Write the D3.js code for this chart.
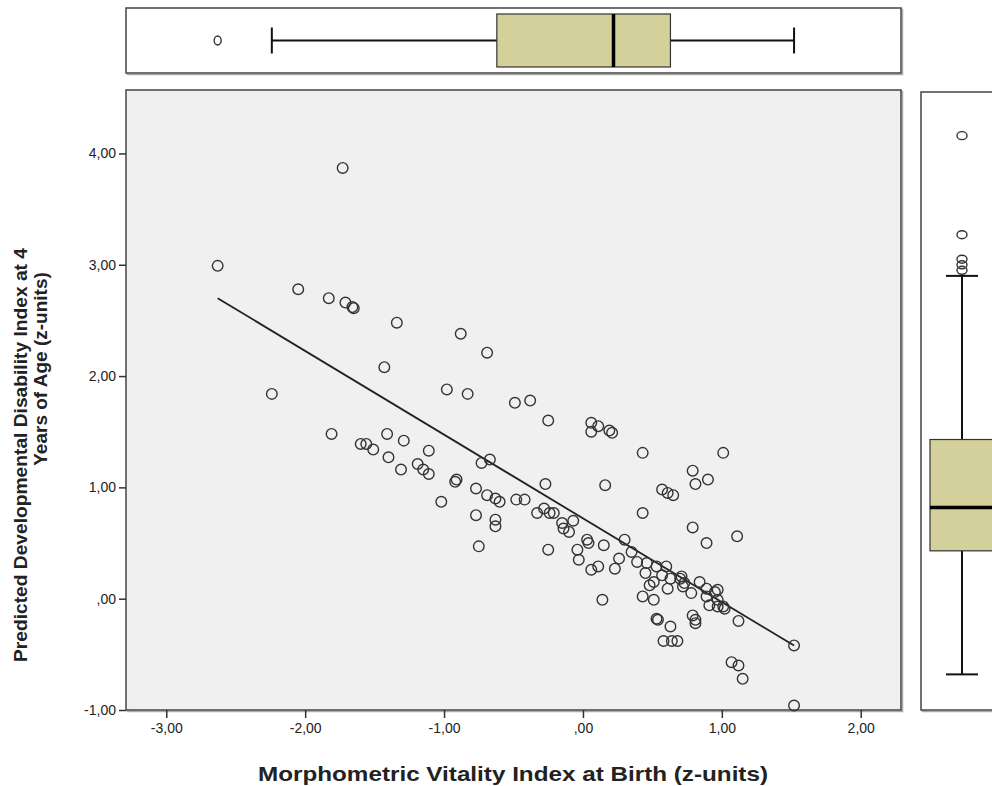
<!DOCTYPE html>
<html>
<head>
<meta charset="utf-8">
<script src="https://cdn.jsdelivr.net/npm/d3@7"></script>
<style>
  body { margin: 0; background: #fff; }
  svg { display: block; font-family: "Liberation Sans", Arial, sans-serif; }
  .tick text { font-size: 14px; fill: #222; }
  .tick line { stroke: #333; stroke-width: 1.5; }
</style>
</head>
<body>
<script>
// scatter values (z-units)
const vitality = [
  -2.63, -1.73, -2.05, -1.83, -1.71, -1.65, -1.66, -1.34, -0.88, -0.69,
  -1.43, -2.24, -0.98, -0.83, -0.49, -0.38, -0.25, 0.06, 0.11, 0.06,
  0.19, 0.21, 0.43, 1.01, 0.79, 0.81, 0.90, -0.27, 0.16, 0.57,
  0.61, 0.65, 0.43, 0.79, 0.89, 1.11, -1.81, -1.60, -1.56, -1.51,
  -1.41, -1.29, -1.40, -1.31, -1.11, -1.19, -1.15, -1.11, -0.92, -0.91,
  -0.73, -0.67, -1.02, -0.77, -0.69, -0.63, -0.60, -0.48, -0.77, -0.63,
  -0.63, -0.75, -0.42, -0.33, -0.28, -0.24, -0.21, -0.15, -0.14, -0.10,
  -0.07, -0.25, -0.04, -0.03, 0.03, 0.04, 0.15, 0.06, 0.11, 0.30,
  0.26, 0.23, 0.35, 0.39, 0.46, 0.53, 0.60, 0.63, 0.57, 0.51,
  0.48, 0.70, 0.61, 0.72, 0.84, 0.78, 0.89, 0.95, 0.43, 0.51,
  0.14, 0.91, 0.97, 0.71, 0.73, 0.97, 1.01, 1.02, 0.89, 0.97,
  0.53, 0.54, 0.63, 0.58, 0.64, 0.68, 0.79, 0.81, 0.81, 1.12,
  1.07, 1.12, 1.15, 1.52, 1.52, 0.45
];
const disability = [
  2.99, 3.87, 2.78, 2.70, 2.66, 2.61, 2.62, 2.48, 2.38, 2.21,
  2.08, 1.84, 1.88, 1.84, 1.76, 1.78, 1.60, 1.58, 1.55, 1.50,
  1.51, 1.49, 1.31, 1.31, 1.15, 1.03, 1.07, 1.03, 1.02, 0.98,
  0.95, 0.93, 0.77, 0.64, 0.50, 0.56, 1.48, 1.39, 1.39, 1.34,
  1.48, 1.42, 1.27, 1.16, 1.33, 1.21, 1.16, 1.12, 1.05, 1.07,
  1.22, 1.25, 0.87, 0.99, 0.93, 0.90, 0.87, 0.89, 0.75, 0.71,
  0.65, 0.47, 0.89, 0.77, 0.81, 0.77, 0.77, 0.68, 0.63, 0.60,
  0.70, 0.44, 0.44, 0.35, 0.53, 0.50, 0.48, 0.26, 0.29, 0.53,
  0.36, 0.27, 0.42, 0.33, 0.32, 0.29, 0.29, 0.18, 0.21, 0.15,
  0.12, 0.18, 0.09, 0.11, 0.15, 0.05, 0.09, 0.06, 0.02, -0.01,
  -0.01, -0.06, 0.08, 0.20, 0.14, -0.07, -0.07, -0.09, 0.02, -0.01,
  -0.18, -0.19, -0.25, -0.38, -0.38, -0.38, -0.15, -0.19, -0.22, -0.20,
  -0.57, -0.60, -0.72, -0.42, -0.96, 0.23
];

// linear fit drawn over the range of x
const fitIntercept = 0.722;
const fitSlope = -0.752;
const fitRange = [-2.63, 1.52];

// box plot summaries: [low whisker, Q1, median, Q3, high whisker]
const xBox = [-2.24, -0.62, 0.22, 0.63, 1.52];
const xOutliers = [-2.63];
const yBox = [-0.68, 0.43, 0.82, 1.43, 2.90];
const yOutliers = [4.16, 3.27, 3.05, 3.00, 2.95];

const xTicks = [-3, -2, -1, 0, 1, 2];
const yTicks = [-1, 0, 1, 2, 3, 4];

const width = 992, height = 786;
const plot = { left: 126, right: 901, top: 90, bottom: 710 };
const topPanel = { top: 8, bottom: 73 };
const sidePanel = { left: 921, right: 1010 };
const boxFill = '#d4d09c';

const svg = d3.select('body')
  .append('svg')
  .attr('width', width)
  .attr('height', height);

const x = d3.scaleLinear()
  .domain([-3.29, 2.29])
  .range([plot.left, plot.right]);

const y = d3.scaleLinear()
  .domain([-1, 4.57])
  .range([plot.bottom, plot.top]);

const locale = d3.formatLocale({ decimal: ',', thousands: '.', grouping: [3], currency: ['', ''], minus: '-' });
const fmt = (d) => locale.format('.2f')(d).replace(/^0,/, ',');

function panel(x0, y0, w, h, fill) {
  svg.append('rect')
    .attr('x', x0 + 1.5).attr('y', y0 + 1.5)
    .attr('width', w).attr('height', h)
    .attr('fill', 'none')
    .attr('stroke', '#aaa')
    .attr('stroke-width', 1.5);
  svg.append('rect')
    .attr('x', x0).attr('y', y0)
    .attr('width', w).attr('height', h)
    .attr('fill', fill)
    .attr('stroke', '#444')
    .attr('stroke-width', 1.5);
}

// main panel
panel(plot.left, plot.top, plot.right - plot.left, plot.bottom - plot.top, '#f0f0f0');

svg.append('g')
  .attr('transform', 'translate(0,' + plot.bottom + ')')
  .call(d3.axisBottom(x).tickValues(xTicks).tickSize(8).tickPadding(5).tickFormat(fmt))
  .call((g) => g.select('.domain').remove());

svg.append('g')
  .attr('transform', 'translate(' + plot.left + ',0)')
  .call(d3.axisLeft(y).tickValues(yTicks).tickSize(7).tickPadding(3).tickFormat(fmt))
  .call((g) => g.select('.domain').remove());

svg.append('line')
  .attr('x1', x(fitRange[0])).attr('y1', y(fitIntercept + fitSlope * fitRange[0]))
  .attr('x2', x(fitRange[1])).attr('y2', y(fitIntercept + fitSlope * fitRange[1]))
  .attr('stroke', '#222')
  .attr('stroke-width', 1.8);

svg.append('g')
  .selectAll('circle')
  .data(vitality.map((v, i) => [v, disability[i]]))
  .enter()
  .append('circle')
  .attr('cx', (d) => x(d[0]))
  .attr('cy', (d) => y(d[1]))
  .attr('r', 5.3)
  .attr('fill', 'none')
  .attr('stroke', '#333')
  .attr('stroke-width', 1.4);

// top box plot (x variable)
panel(plot.left, topPanel.top, plot.right - plot.left, topPanel.bottom - topPanel.top, '#fff');

const topMid = (topPanel.top + topPanel.bottom) / 2;
const topG = svg.append('g');
topG.append('line')
  .attr('x1', x(xBox[0])).attr('x2', x(xBox[4]))
  .attr('y1', topMid).attr('y2', topMid)
  .attr('stroke', '#111').attr('stroke-width', 2);
topG.selectAll('.cap')
  .data([xBox[0], xBox[4]])
  .enter()
  .append('line')
  .attr('x1', (d) => x(d)).attr('x2', (d) => x(d))
  .attr('y1', topMid - 13).attr('y2', topMid + 13)
  .attr('stroke', '#111').attr('stroke-width', 2);
topG.append('rect')
  .attr('x', x(xBox[1])).attr('y', topPanel.top + 6)
  .attr('width', x(xBox[3]) - x(xBox[1]))
  .attr('height', topPanel.bottom - topPanel.top - 12)
  .attr('fill', boxFill)
  .attr('stroke', '#333').attr('stroke-width', 1.2);
topG.append('line')
  .attr('x1', x(xBox[2])).attr('x2', x(xBox[2]))
  .attr('y1', topPanel.top + 6).attr('y2', topPanel.bottom - 6)
  .attr('stroke', '#000').attr('stroke-width', 3.5);
topG.selectAll('ellipse')
  .data(xOutliers)
  .enter()
  .append('ellipse')
  .attr('cx', (d) => x(d)).attr('cy', topMid)
  .attr('rx', 3.5).attr('ry', 4.5)
  .attr('fill', 'none').attr('stroke', '#333').attr('stroke-width', 1.4);

// side box plot (y variable)
panel(sidePanel.left, plot.top + 2, sidePanel.right - sidePanel.left, plot.bottom - plot.top - 2, '#fff');

const sideMid = 962;
const sideG = svg.append('g');
sideG.append('line')
  .attr('x1', sideMid).attr('x2', sideMid)
  .attr('y1', y(yBox[0])).attr('y2', y(yBox[4]))
  .attr('stroke', '#111').attr('stroke-width', 2);
sideG.selectAll('.cap')
  .data([yBox[0], yBox[4]])
  .enter()
  .append('line')
  .attr('x1', sideMid - 16).attr('x2', sideMid + 16)
  .attr('y1', (d) => y(d)).attr('y2', (d) => y(d))
  .attr('stroke', '#111').attr('stroke-width', 2);
sideG.append('rect')
  .attr('x', 930).attr('y', y(yBox[3]))
  .attr('width', 80)
  .attr('height', y(yBox[1]) - y(yBox[3]))
  .attr('fill', boxFill)
  .attr('stroke', '#333').attr('stroke-width', 1.2);
sideG.append('line')
  .attr('x1', 930).attr('x2', 1010)
  .attr('y1', y(yBox[2])).attr('y2', y(yBox[2]))
  .attr('stroke', '#000').attr('stroke-width', 3.5);
sideG.selectAll('ellipse')
  .data(yOutliers)
  .enter()
  .append('ellipse')
  .attr('cx', sideMid).attr('cy', (d) => y(d))
  .attr('rx', 5).attr('ry', 4)
  .attr('fill', 'none').attr('stroke', '#333').attr('stroke-width', 1.4);

// axis titles
svg.append('text')
  .attr('x', 513)
  .attr('y', 781)
  .attr('text-anchor', 'middle')
  .attr('font-size', 21)
  .attr('font-weight', 'bold')
  .attr('fill', '#222')
  .attr('textLength', 510)
  .attr('lengthAdjust', 'spacingAndGlyphs')
  .text('Morphometric Vitality Index at Birth (z-units)');

svg.append('text')
  .attr('transform', 'translate(27,455) rotate(-90)')
  .attr('text-anchor', 'middle')
  .attr('font-size', 19)
  .attr('font-weight', 'bold')
  .attr('fill', '#222')
  .attr('textLength', 414)
  .attr('lengthAdjust', 'spacingAndGlyphs')
  .text('Predicted Developmental Disability Index at 4');

svg.append('text')
  .attr('transform', 'translate(47,369) rotate(-90)')
  .attr('text-anchor', 'middle')
  .attr('font-size', 19)
  .attr('font-weight', 'bold')
  .attr('fill', '#222')
  .text('Years of Age (z-units)');
</script>
</body>
</html>
